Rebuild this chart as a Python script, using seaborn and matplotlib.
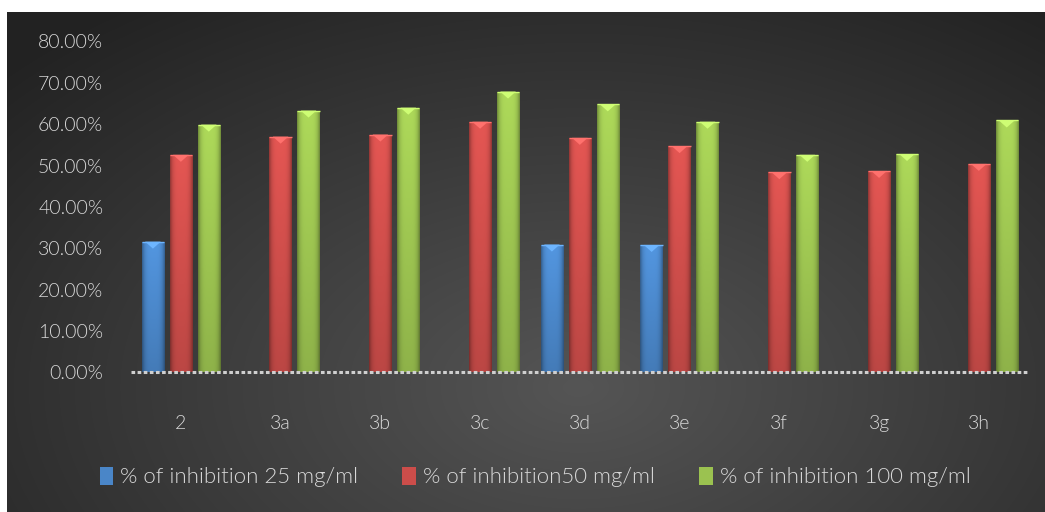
import numpy as np
import pandas as pd
import matplotlib
matplotlib.use("Agg")
import matplotlib.pyplot as plt
import matplotlib.colors as mcolors
import seaborn as sns

compounds = ["2", "3a", "3b", "3c", "3d", "3e", "3f", "3g", "3h"]
series_names = ["% of inhibition 25 mg/ml", "% of inhibition50 mg/ml", "% of inhibition 100 mg/ml"]
inhib_25 = [31.6, np.nan, np.nan, np.nan, 30.9, 30.8, np.nan, np.nan, np.nan]
inhib_50 = [52.6, 57.0, 57.5, 60.6, 56.7, 54.7, 48.4, 48.7, 50.4]
inhib_100 = [59.9, 63.3, 64.0, 67.9, 64.8, 60.6, 52.6, 52.8, 60.9]
y_ticks = [0, 10, 20, 30, 40, 50, 60, 70, 80]
colors = ["#4a86c8", "#cc4d4a", "#9bc250"]

rows = []
for name, vals in zip(series_names, [inhib_25, inhib_50, inhib_100]):
    for c, v in zip(compounds, vals):
        rows.append({"compound": c, "series": name, "value": v})
df = pd.DataFrame(rows)

sns.set_theme(style="dark")
plt.rcParams['font.family'] = ['Lato', 'DejaVu Sans']
plt.rcParams['font.weight'] = 300

fig = plt.figure(figsize=(10.45, 5.12), dpi=100)
fig.patch.set_facecolor("white")

# dark panel with radial gradient
bg = fig.add_axes([7/1045, 0, 1 - 7/1045, 1 - 12/512], zorder=-10)
h, w = 500, 1038
yy, xx = np.mgrid[0:h, 0:w]
cx, cy = 0.55 * w, 0.75 * h
r = np.sqrt(((xx - cx) / (0.75 * w)) ** 2 + ((yy - cy) / (0.95 * h)) ** 2)
r = np.clip(r, 0, 1)
light = np.array([0x55, 0x55, 0x55]) / 255
dark = np.array([0x22, 0x22, 0x22]) / 255
img = light[None, None, :] * (1 - r[..., None]) + dark[None, None, :] * r[..., None]
bg.imshow(img, aspect="auto", extent=[0, 1, 0, 1], origin="upper")
bg.set_axis_off()

ax = fig.add_axes([131/1045, 1 - 372.3/512, (1028.7 - 131)/1045, (372.3 - 41.5)/512])
ax.set_facecolor("none")
sns.barplot(data=df, x="compound", y="value", hue="series", hue_order=series_names,
            order=compounds, palette=colors, width=0.84, gap=0.2, ax=ax,
            linewidth=0, saturation=1, errorbar=None)

ax.set_ylim(0, 80)
ax.set_xlim(-0.5, len(compounds) - 0.5)

# bevel / cylinder shading on each bar, drawn from the bar patches themselves
prof_x = np.linspace(-1, 1, 40)
shade_x = 1 - 0.35 * prof_x ** 4
for p in list(ax.patches):
    hgt = p.get_height()
    if not np.isfinite(hgt) or hgt <= 0:
        continue
    base = np.array(mcolors.to_rgb(p.get_facecolor()))
    x0, wd = p.get_x(), p.get_width()
    prof_y = np.linspace(1, 0, 60)  # top -> bottom
    light_y = 1 + 0.12 * prof_y - 0.08 * (1 - prof_y)
    fac = light_y[:, None] * shade_x[None, :]
    im = np.clip(base[None, None, :] * fac[..., None], 0, 1)
    art = ax.imshow(im, extent=[x0, x0 + wd, 0, hgt], aspect="auto", origin="upper",
                    zorder=p.get_zorder() + 0.1, interpolation="bilinear")
    art.set_clip_path(p)
    # light triangle at top (bevel)
    tri_h = 1.7
    top_col = np.clip(base * 1.2 + 0.08, 0, 1)
    ax.fill([x0 + wd * 0.15, x0 + wd * 0.85, x0 + wd * 0.5],
            [hgt, hgt, hgt - tri_h], color=top_col, zorder=p.get_zorder() + 0.2, lw=0)
    ax.plot([x0, x0 + wd], [hgt, hgt], color=top_col, lw=1.0, zorder=p.get_zorder() + 0.2,
            solid_capstyle="butt")

ax.set_ylim(0, 80)
ax.set_xlim(-0.5, len(compounds) - 0.5)
ax.set_yticks(y_ticks)
ax.set_yticklabels([f"{v:.2f}%" for v in y_ticks])
ax.set_xlabel("")
ax.set_ylabel("")
ax.grid(False)
for s in ax.spines.values():
    s.set_visible(False)
ax.axhline(0, color="#cfcfcf", lw=2.2, ls=(0, (1.2, 0.8)), zorder=5, clip_on=False)
ax.tick_params(axis="both", length=0, labelsize=14, labelcolor="#d9d9d9")
ax.tick_params(axis="y", pad=20)
ax.tick_params(axis="x", pad=31)

leg = ax.legend(loc="center", bbox_to_anchor=(535/1045, 1 - 477/512),
                bbox_transform=fig.transFigure, ncol=3, frameon=False,
                fontsize=16, handlelength=0.62, handleheight=0.9, handletextpad=0.3,
                columnspacing=2.0)
for t in leg.get_texts():
    t.set_color("#d9d9d9")

fig.savefig("out.png", dpi=100, facecolor=fig.get_facecolor())
